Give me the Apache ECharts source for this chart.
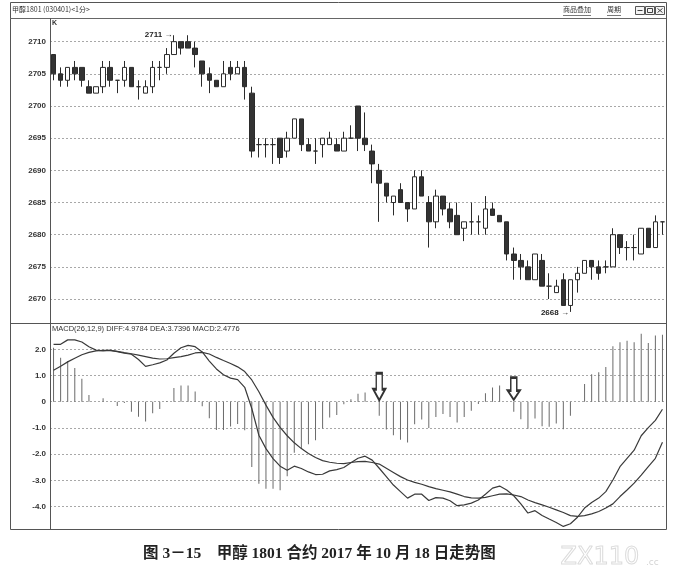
<!DOCTYPE html>
<html>
<head>
<meta charset="utf-8">
<script src="https://cdn.jsdelivr.net/npm/echarts@6/dist/echarts.min.js"></script>
<style>
  html, body { margin: 0; padding: 0; background: #fff; }
  #chart { width: 679px; height: 586px; }
</style>
</head>
<body>
<div id="chart"></div>
<script>
// 1-minute bars of the methanol 1801 contract
const openP = [2708,2705,2704,2706,2706,2703,2702,2703,2706,2704,
  2704,2706,2703,2702,2703,2706,2706,2708,2710,2710,
  2709,2707,2705,2704,2703,2706,2705,2706,2702,2694,
  2694,2694,2695,2693,2695,2698,2694,2693,2694,2694,
  2694,2693,2695,2700,2695,2693,2690,2688,2685,2687,
  2685,2684,2689,2685,2682,2686,2684,2683,2681,2682,
  2682,2681,2684,2683,2682,2677,2676,2675,2673,2676,
  2672,2671,2673,2669,2673,2674,2676,2675,2675,2675,
  2680,2678,2678,2677,2681,2678,2682];
const closeP = [2705,2704,2706,2705,2704,2702,2703,2706,2704,2704,
  2706,2703,2703,2703,2706,2706,2708,2710,2709,2709,
  2708,2705,2704,2703,2705,2705,2706,2703,2693,2694,
  2694,2694,2692,2695,2698,2694,2693,2693,2695,2695,
  2693,2695,2695,2695,2694,2691,2688,2686,2686,2685,
  2684,2689,2686,2682,2686,2684,2682,2680,2682,2682,
  2682,2684,2683,2682,2677,2676,2675,2673,2677,2672,
  2672,2672,2669,2673,2674,2676,2675,2674,2675,2680,
  2678,2678,2678,2681,2678,2682,2682];
const lowP = [2704,2703,2703,2704,2703,2702,2702,2702,2703,2702,
  2703,2703,2701,2702,2702,2704,2705,2708,2708,2709,
  2706,2703,2702,2703,2703,2704,2705,2701,2692,2692,
  2692,2691,2691,2692,2695,2693,2693,2691,2692,2694,
  2693,2693,2695,2693,2693,2688,2682,2685,2683,2685,
  2682,2684,2686,2678,2681,2683,2681,2680,2679,2680,
  2680,2680,2683,2682,2676,2673,2673,2673,2673,2672,
  2670,2671,2669,2668,2671,2674,2673,2673,2674,2675,
  2677,2676,2676,2677,2678,2678,2680];
const highP = [2708,2706,2706,2707,2706,2704,2703,2707,2707,2704,
  2707,2706,2704,2704,2707,2707,2709,2711,2710,2711,
  2710,2707,2706,2704,2707,2707,2707,2707,2703,2695,
  2695,2695,2695,2696,2698,2698,2695,2695,2695,2696,
  2695,2696,2697,2700,2699,2694,2691,2688,2686,2688,
  2685,2690,2690,2686,2687,2686,2685,2685,2682,2685,
  2683,2686,2685,2683,2682,2678,2677,2676,2677,2677,
  2674,2673,2674,2673,2675,2676,2676,2676,2676,2681,
  2680,2679,2680,2681,2681,2683,2682];

// MACD(26,12,9) lines and histogram
const diffLine = [2.19,2.19,2.36,2.36,2.28,2.10,1.97,1.94,1.96,1.91,
  1.85,1.81,1.61,1.35,1.41,1.48,1.59,1.85,2.06,2.15,
  2.10,1.90,1.55,1.25,1.03,0.90,0.84,0.55,-0.26,-1.28,
  -1.79,-2.17,-2.46,-2.62,-2.46,-2.55,-2.68,-2.78,-2.77,-2.64,
  -2.59,-2.51,-2.33,-2.16,-2.08,-2.23,-2.54,-2.86,-3.18,-3.43,
  -3.68,-3.53,-3.53,-3.77,-3.66,-3.68,-3.78,-3.97,-3.94,-3.87,
  -3.75,-3.53,-3.30,-3.22,-3.37,-3.59,-3.90,-4.25,-4.16,-4.34,
  -4.48,-4.61,-4.76,-4.66,-4.41,-4.06,-3.85,-3.68,-3.43,-2.99,
  -2.48,-2.16,-1.85,-1.30,-0.99,-0.71,-0.29];
const deaLine = [1.20,1.35,1.52,1.66,1.79,1.88,1.94,1.96,1.96,1.92,
  1.87,1.83,1.78,1.72,1.66,1.63,1.64,1.68,1.72,1.78,
  1.86,1.88,1.82,1.69,1.57,1.46,1.33,1.15,0.83,0.38,
  -0.13,-0.60,-0.98,-1.30,-1.57,-1.79,-1.98,-2.13,-2.25,-2.31,
  -2.35,-2.36,-2.32,-2.29,-2.28,-2.32,-2.38,-2.54,-2.70,-2.86,
  -2.99,-3.08,-3.15,-3.24,-3.32,-3.38,-3.44,-3.53,-3.62,-3.67,
  -3.68,-3.65,-3.59,-3.53,-3.52,-3.56,-3.62,-3.75,-3.85,-3.94,
  -4.03,-4.13,-4.23,-4.35,-4.38,-4.35,-4.28,-4.19,-4.06,-3.90,
  -3.62,-3.37,-3.11,-2.80,-2.48,-2.16,-1.55];
const macdBars = [2.06,1.68,1.55,1.29,0.88,0.26,0,0.13,0,-0.16,
  -0.05,-0.38,-0.57,-0.76,-0.44,-0.28,0.03,0.52,0.62,0.62,
  0.39,-0.17,-0.63,-1.08,-1.08,-0.95,-0.85,-1.09,-2.49,-3.13,
  -3.32,-3.32,-3.38,-2.85,-1.95,-1.79,-1.62,-1.47,-1.02,-0.60,
  -0.51,-0.10,0.09,0.30,0.35,0,-0.54,-1.06,-1.28,-1.45,
  -1.56,-0.86,-0.68,-1.00,-0.58,-0.47,-0.58,-0.79,-0.58,-0.35,
  -0.09,0.32,0.54,0.62,0,-0.38,-0.67,-1.03,-0.64,-0.94,
  -0.96,-0.83,-1.05,-0.54,0,0.68,1.05,1.12,1.32,2.12,
  2.27,2.33,2.27,2.59,2.24,2.53,2.56];

// marked extremes and signal bars
const peakMark = { idx: 17, price: 2711 };
const troughMark = { idx: 73, price: 2668 };
const signalBars = [46, 65];

const priceTicks = { min: 2665, max: 2715, step: 5 };
const macdTicks = { min: -5, max: 3, step: 1 };

const minuteIdx = openP.map((_, i) => i);
const candleData = openP.map((o, i) => [o, closeP[i], lowP[i], highP[i]]);

const INK = '#2b2b2b';
const GRID = '#a8a8a8';
const labelFont = { fontFamily: '"Liberation Sans", Arial, sans-serif', fontSize: 8, fontWeight: 'bold', color: '#333' };

const chart = echarts.init(document.getElementById('chart'), null, { renderer: 'canvas' });

const plotL = 50, plotR = 13;

chart.setOption({
  animation: false,
  backgroundColor: '#ffffff',
  grid: [
    { left: plotL, right: plotR, top: 9.5, height: 321.7 },
    { left: plotL, right: plotR, top: 323.1, height: 209.6 }
  ],
  xAxis: [
    { type: 'category', gridIndex: 0, data: minuteIdx, boundaryGap: true, show: false },
    { type: 'category', gridIndex: 1, data: minuteIdx, boundaryGap: true, show: false }
  ],
  yAxis: [
    {
      type: 'value', gridIndex: 0, min: priceTicks.min, max: priceTicks.max, interval: priceTicks.step,
      axisLine: { show: false }, axisTick: { show: false },
      axisLabel: Object.assign({ margin: 4, showMinLabel: false, showMaxLabel: false,
        formatter: v => String(v) }, labelFont),
      splitLine: { show: true, showMinLine: false, showMaxLine: false,
        lineStyle: { color: GRID, type: [2, 2], width: 1 } }
    },
    {
      type: 'value', gridIndex: 1, min: macdTicks.min, max: macdTicks.max, interval: macdTicks.step,
      axisLine: { show: false }, axisTick: { show: false },
      axisLabel: Object.assign({ margin: 4, showMinLabel: false, showMaxLabel: false,
        formatter: v => (v === 0 ? '0' : v.toFixed(1)) }, labelFont),
      splitLine: { show: true, showMinLine: false, showMaxLine: false,
        lineStyle: { color: GRID, type: [2, 2], width: 1 } }
    }
  ],
  series: [
    {
      type: 'candlestick', xAxisIndex: 0, yAxisIndex: 0,
      data: candleData,
      barWidth: 5,
      itemStyle: { color: '#ffffff', borderColor: INK, color0: '#333333', borderColor0: INK, borderWidth: 1 },
      markPoint: {
        symbol: 'circle', symbolSize: 1,
        itemStyle: { color: 'rgba(0,0,0,0)' },
        label: { show: true, position: 'left', distance: 1, fontFamily: '"Liberation Sans", Arial, sans-serif',
          fontSize: 8, fontWeight: 'bold', color: '#222' },
        data: [
          { coord: [peakMark.idx, peakMark.price], value: peakMark.price,
            label: { formatter: '{c} →', offset: [0, 0] } },
          { coord: [troughMark.idx, troughMark.price], value: troughMark.price,
            label: { formatter: '{c} →', offset: [0, 1] } }
        ]
      }
    },
    {
      type: 'bar', xAxisIndex: 1, yAxisIndex: 1,
      data: macdBars, barWidth: 1,
      itemStyle: { color: '#6a6a6a' },
      markPoint: {
        symbol: 'path://M3,0 L9,0 L9,13 L12,13 L6,22 L0,13 L3,13 Z',
        itemStyle: { color: '#ffffff', borderColor: '#333', borderWidth: 2 },
        label: { show: false },
        data: [
          { coord: [signalBars[0], 0], symbolSize: [12, 27], symbolOffset: [0, -15] },
          { coord: [signalBars[1], 0], symbolSize: [12, 22], symbolOffset: [0, -13] }
        ]
      }
    },
    {
      name: 'DIFF', type: 'line', xAxisIndex: 1, yAxisIndex: 1,
      data: diffLine, symbol: 'none',
      lineStyle: { color: '#3a3a3a', width: 1.2 }
    },
    {
      name: 'DEA', type: 'line', xAxisIndex: 1, yAxisIndex: 1,
      data: deaLine, symbol: 'none',
      lineStyle: { color: '#3a3a3a', width: 1.2 }
    }
  ],
  graphic: [
    // panel frame
    { type: 'rect', z: 50, silent: true, shape: { x: 10.5, y: 2.5, width: 656, height: 527 },
      style: { fill: null, stroke: '#555', lineWidth: 1 } },
    { type: 'line', z: 50, silent: true, shape: { x1: 10, y1: 18.5, x2: 666, y2: 18.5 }, style: { stroke: '#666', lineWidth: 1 } },
    { type: 'line', z: 50, silent: true, shape: { x1: 10, y1: 323.5, x2: 666, y2: 323.5 }, style: { stroke: '#555', lineWidth: 1 } },
    { type: 'line', z: 50, silent: true, shape: { x1: 50.5, y1: 18, x2: 50.5, y2: 530 }, style: { stroke: '#555', lineWidth: 1 } },
    // header
    { type: 'text', z: 51, left: 12, top: 6, style: { text: '甲醇1801 (030401)<1分>', fill: '#333',
      font: '7px "Noto Sans CJK SC", "Liberation Sans", sans-serif' } },
    { type: 'text', z: 51, left: 563, top: 6, style: { text: '商品叠加', fill: '#333',
      font: '7px "Noto Sans CJK SC", sans-serif' } },
    { type: 'line', z: 51, shape: { x1: 563, y1: 15.5, x2: 591, y2: 15.5 }, style: { stroke: '#555', lineWidth: 0.8 } },
    { type: 'text', z: 51, left: 607, top: 6, style: { text: '周期', fill: '#333',
      font: '7px "Noto Sans CJK SC", sans-serif' } },
    { type: 'line', z: 51, shape: { x1: 607, y1: 15.5, x2: 621, y2: 15.5 }, style: { stroke: '#555', lineWidth: 0.8 } },
    { type: 'rect', z: 51, shape: { x: 635.5, y: 6.5, width: 9, height: 8 }, style: { fill: '#f4f4f4', stroke: '#555', lineWidth: 1 } },
    { type: 'rect', z: 51, shape: { x: 645.5, y: 6.5, width: 9, height: 8 }, style: { fill: '#f4f4f4', stroke: '#555', lineWidth: 1 } },
    { type: 'rect', z: 51, shape: { x: 655.5, y: 6.5, width: 9, height: 8 }, style: { fill: '#f4f4f4', stroke: '#555', lineWidth: 1 } },
    { type: 'line', z: 52, shape: { x1: 637.5, y1: 10.5, x2: 642.5, y2: 10.5 }, style: { stroke: '#444', lineWidth: 1 } },
    { type: 'rect', z: 52, shape: { x: 647.5, y: 8.5, width: 5, height: 4 }, style: { fill: null, stroke: '#444', lineWidth: 1 } },
    { type: 'line', z: 52, shape: { x1: 657.5, y1: 8.5, x2: 662.5, y2: 12.5 }, style: { stroke: '#444', lineWidth: 1 } },
    { type: 'line', z: 52, shape: { x1: 662.5, y1: 8.5, x2: 657.5, y2: 12.5 }, style: { stroke: '#444', lineWidth: 1 } },
    { type: 'text', z: 51, left: 52, top: 20, style: { text: 'K', fill: '#333',
      font: 'bold 7px "Liberation Sans", sans-serif' } },
    { type: 'text', z: 51, left: 52, top: 325, style: { text: 'MACD(26,12,9) DIFF:4.9784 DEA:3.7396 MACD:2.4776', fill: '#333',
      font: '7.5px "Liberation Sans", Arial, sans-serif' } },
    // caption
    { type: 'text', z: 51, left: 143, top: 546, style: {
      text: '图 3－15　甲醇 1801 合约 2017 年 10 月 18 日走势图', fill: '#222',
      font: 'bold 15.5px "Liberation Serif", "Noto Sans CJK SC", serif' } },
    { type: 'text', z: 51, left: 560, top: 545, style: { text: 'ZX110', fill: 'rgba(0,0,0,0)', stroke: '#dcdcdc', lineWidth: 1,
      font: '24px "DejaVu Sans", sans-serif' } },
    { type: 'text', z: 51, left: 646, top: 558, style: { text: '.cc', fill: '#d4d4d4',
      font: '9px "DejaVu Sans", sans-serif' } }
  ]
});
</script>
</body>
</html>
